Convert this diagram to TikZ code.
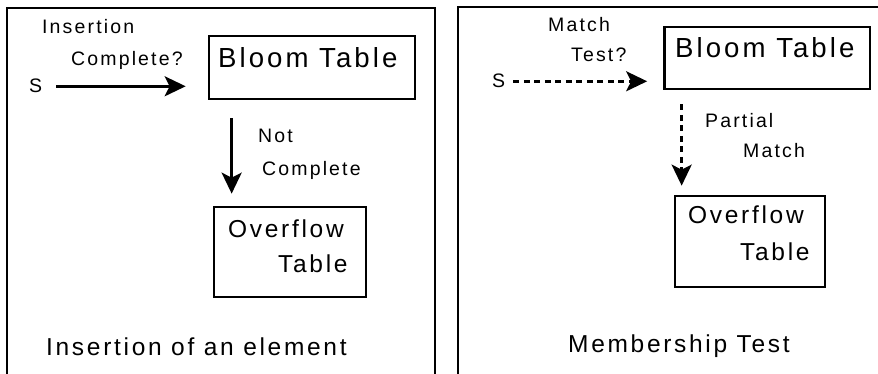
\documentclass[tikz,border=0pt]{standalone}
\usepackage{fontspec}
\setmainfont{Liberation Sans}[LetterSpace=11]
\usetikzlibrary{arrows.meta}

\tikzset{
  tbox/.style={draw, line width=2.7pt, inner sep=0pt},
  lbl/.style={anchor=base west, inner sep=0pt, font=\fontsize{19.5}{22}\selectfont},
  title/.style={lbl, font=\fontsize{27.6}{30}\selectfont},
  capt/.style={lbl, font=\fontsize{24.5}{27}\selectfont},
  arr/.style={line width=2.6pt, -{Stealth[length=21pt,width=20pt,inset=5pt]}},
  darr/.style={arr, dash pattern=on 6pt off 4.5pt},
  panel/.style={line width=2.8pt},
}

\begin{document}
\begin{tikzpicture}[x=1pt,y=-1pt]
      \useasboundingbox (0,0) rectangle (878,374);
      % panel frames (cut off at the page edge)
      \draw[panel] (7,380) -- (7,8) -- (435,8) -- (435,380);
      \draw[panel] (458,380) -- (458,7) -- (885,7);
      % left panel: insertion
      \node[tbox, minimum width=206pt, minimum height=63pt] (bloomL) at (312,67.5) {};
      \node[tbox, minimum width=152pt, minimum height=90pt] (ovfL) at (290,252) {};
      \node[title] (bloomLt) at (218,68) {Bloom Table};
      \node[capt] (ovfLa) at (228,237) {Overflow};
      \node[capt] (ovfLb) at (278,272) {Table};
      \node[lbl] (sL) at (29,93) {S};
      \node[lbl] (insA) at (42,34) {Insertion};
      \node[lbl] (insB) at (71,66) {Complete?};
      \node[lbl] (notA) at (258,143) {Not};
      \node[lbl] (notB) at (262,176) {Complete};
      \node[capt] (capL) at (46,355) {Insertion of an element};
      \draw[arr] ([xshift=14pt]sL.east) -- ([xshift=-22pt]bloomL.west |- sL.east);
      \draw[arr] ([xshift=24pt,yshift=-18pt]bloomL.south west) -- ([xshift=24pt,yshift=12pt]bloomL.south west |- ovfL.north);
      % right panel: membership test
      \node[tbox, minimum width=205.5pt, minimum height=62pt] (bloomR) at (767.25,58) {};
      \node[tbox, minimum width=150pt, minimum height=91pt] (ovfR) at (750,241.5) {};
      \node[title] (bloomRt) at (675,58) {Bloom Table};
      \node[capt] (ovfRa) at (688,224) {Overflow};
      \node[capt] (ovfRb) at (740,260) {Table};
      \node[lbl] (sR) at (492,88) {S};
      \node[lbl] (mtA) at (548,32) {Match};
      \node[lbl] (mtB) at (571,62) {Test?};
      \node[lbl] (pmA) at (705,128) {Partial};
      \node[lbl] (pmB) at (743,158) {Match};
      \node[capt] (capR) at (568,352) {Membership Test};
      \draw[darr] ([xshift=8pt]sR.east) -- ([xshift=-16pt]bloomR.west |- sR.east);
      \draw[darr] ([xshift=18.5pt,yshift=-14pt]bloomR.south west) -- ([xshift=18.5pt,yshift=9pt]bloomR.south west |- ovfR.north);
\end{tikzpicture}
\end{document}
